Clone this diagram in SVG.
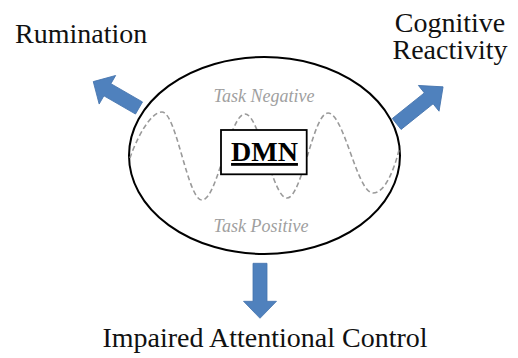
<svg xmlns="http://www.w3.org/2000/svg" width="518" height="358" viewBox="0 0 518 358">
<style>
.lbl{font-family:"Liberation Serif","Times New Roman",serif;font-size:28px;fill:#111}
.task{font-family:"Liberation Serif","Times New Roman",serif;font-size:18px;font-style:italic;fill:#a0a0a0}
.arrow{fill:#4F81BD;stroke:#4574ad;stroke-width:0.8}
</style>
<defs>
<path id="arr" d="M0,-7 L38,-7 L38,-16.5 L55,0 L38,16.5 L38,7 L0,7 Z"/>
</defs>
<rect width="518" height="358" fill="#fff"/>
<g id="connectors">
<use href="#arr" class="arrow" transform="translate(139,108) rotate(-150) scale(0.96,1)"/>
<use href="#arr" class="arrow" transform="translate(396.7,124) rotate(-38.7) scale(1.08,1)"/>
<use href="#arr" class="arrow" transform="translate(260,263.3) rotate(90)"/>
</g>
<g id="dmn-network">
<ellipse cx="264.5" cy="155.5" rx="135.5" ry="98.5" fill="none" stroke="#000" stroke-width="2"/>
<path d="M130,158 C136,140 150,112 162,112 C176.5,112 187.5,200 202,200 C217.5,200 229.5,114 245,114 C260,114 272,198 287,198 C302,198 313,113 328,113 C344,113 357,193 373,193 C385,193 394,170 399,150" fill="none" stroke="#9a9a9a" stroke-width="1.6" stroke-dasharray="5,3"/>
<text class="task" x="264" y="102" text-anchor="middle">Task Negative</text>
<text class="task" x="261" y="232" text-anchor="middle">Task Positive</text>
</g>
<g id="dmn">
<rect x="221" y="130" width="85.7" height="44.3" fill="#fff" stroke="#000" stroke-width="1.8"/>
<text x="264.5" y="161" text-anchor="middle" font-family="Liberation Serif,'Times New Roman',serif" font-size="28" font-weight="bold" text-decoration="underline" fill="#000">DMN</text>
</g>
<g id="rumination">
<text class="lbl" x="15" y="43">Rumination</text>
</g>
<g id="cognitive-reactivity">
<text class="lbl" x="450" y="32" text-anchor="middle">Cognitive</text>
<text class="lbl" x="450" y="59" text-anchor="middle">Reactivity</text>
</g>
<g id="impaired-attentional-control">
<text class="lbl" x="265" y="347" text-anchor="middle">Impaired Attentional Control</text>
</g>
</svg>
